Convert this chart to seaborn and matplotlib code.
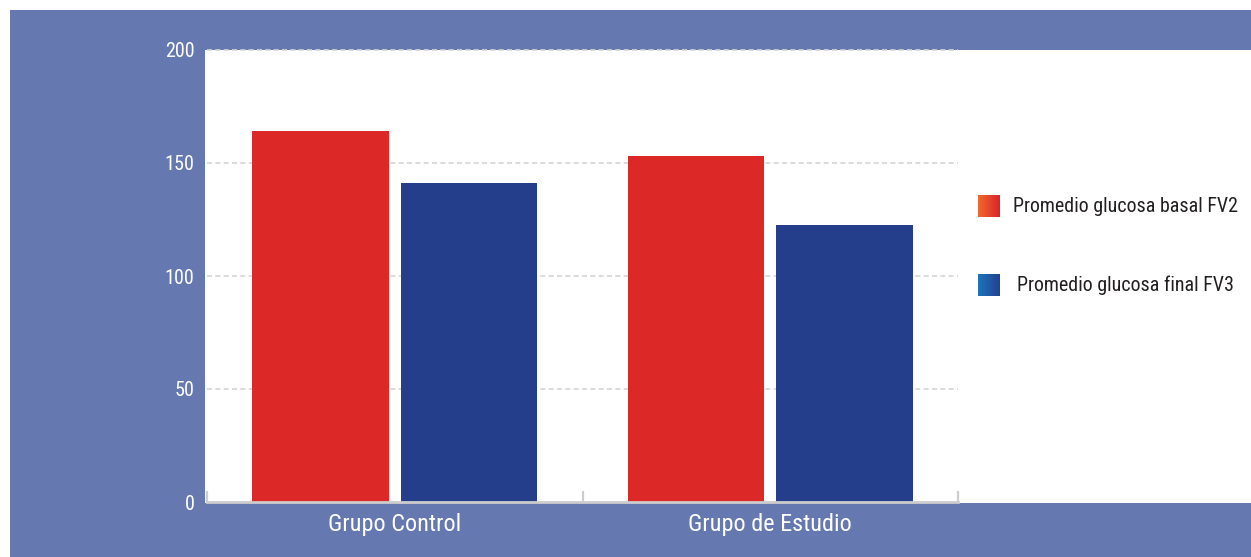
import numpy as np
import pandas as pd
import matplotlib
matplotlib.use("Agg")
import matplotlib.pyplot as plt
from matplotlib import font_manager
from matplotlib.patches import Rectangle
from matplotlib.colors import LinearSegmentedColormap
import seaborn as sns

# Data
groups = ["Grupo Control", "Grupo de Estudio"]
series = ["Promedio glucosa basal FV2", "Promedio glucosa final FV3"]
basal = [164, 153]
final = [141, 122.5]
yticks = [0, 50, 100, 150, 200]

BAND = "#6678B0"
RED = "#DC2927"
NAVY = "#253E8C"
GRID = "#D6D6D6"
TEXT = "#231F20"

# Prefer a narrow sans face when one is installed
installed = {f.name for f in font_manager.fontManager.ttflist}
preferred = ["Liberation Sans Narrow", "Roboto Condensed", "Open Sans Condensed",
             "Noto Sans Condensed", "DejaVu Sans Condensed", "Noto Sans Display",
             "Roboto", "Liberation Sans"]
face = next((f for f in preferred if f in installed), "DejaVu Sans")
narrow = face in preferred[:5]

sns.set_theme(style="white")
plt.rcParams["font.family"] = [face, "DejaVu Sans"]

W, H = 1251, 557
fig = plt.figure(figsize=(W / 100, H / 100), dpi=100, facecolor="white")

def fx(px):
    return px / W

def fy(py):
    return (H - py) / H

# Blue frame with white panel, kept behind the axes
fig.patches.append(Rectangle((fx(10), 0), fx(W - 10), (H - 10) / H,
                             transform=fig.transFigure, facecolor=BAND,
                             edgecolor="none", zorder=-10))
fig.patches.append(Rectangle((fx(205), fy(503)), fx(W - 205), 453 / H,
                             transform=fig.transFigure, facecolor="white",
                             edgecolor="none", zorder=-9))

ax = fig.add_axes([fx(207), fy(502), fx(958 - 207), (502 - 50) / H])
ax.set_facecolor("none")

df = pd.DataFrame({
    "grupo": groups * 2,
    "serie": [series[0]] * len(groups) + [series[1]] * len(groups),
    "valor": basal + final,
})

sns.barplot(data=df, x="grupo", y="valor", hue="serie", hue_order=series,
            palette=[RED, NAVY], saturation=1, width=0.79, gap=0.08,
            linewidth=0, legend=False, ax=ax, zorder=3)

ax.set_ylim(0, 200)
ax.set_xlim(-0.5, 1.5)
ax.set_yticks(yticks)
ax.set_yticklabels([str(v) for v in yticks])
ax.set_xlabel("")
ax.set_ylabel("")

for v in yticks[1:]:
    ax.axhline(v, color=GRID, lw=1.2, ls=(0, (3, 2)), zorder=1, clip_on=False)

for side in ["left", "right", "top"]:
    ax.spines[side].set_visible(False)
ax.spines["bottom"].set_color("#CDCDCD")
ax.spines["bottom"].set_linewidth(2)
ax.spines["bottom"].set_zorder(4)

xlab_size = 17.5 if narrow else 14
leg_size = 14.4 if narrow else 12
ytick_size = 14.5 if narrow else 13
ax.set_xticks([-0.5, 0.5, 1.5], minor=True)
ax.tick_params(axis="x", which="minor", direction="in", length=8,
               width=1.6, color="#CDCDCD", bottom=True)
ax.tick_params(axis="x", which="major", length=0, pad=8,
               labelsize=xlab_size, labelcolor="white")
ax.tick_params(axis="y", length=0, pad=9, labelsize=ytick_size,
               labelcolor="white")

# Legend with gradient swatches
swatches = [
    (195, ["#F26A2A", "#D9232D"], series[0], 1013),
    (274, ["#1C75BC", "#25408F"], series[1], 1017),
]
grad = np.linspace(0, 1, 64).reshape(1, -1)
for top, cols, label, tx in swatches:
    sax = fig.add_axes([fx(978), fy(top + 22), fx(22), 22 / H])
    sax.imshow(grad, aspect="auto",
               cmap=LinearSegmentedColormap.from_list("g", cols))
    sax.set_axis_off()
    fig.text(fx(tx), fy(top + 11), label, ha="left", va="center",
             fontsize=leg_size, color=TEXT)

fig.savefig("out.png", dpi=100, facecolor="white")
